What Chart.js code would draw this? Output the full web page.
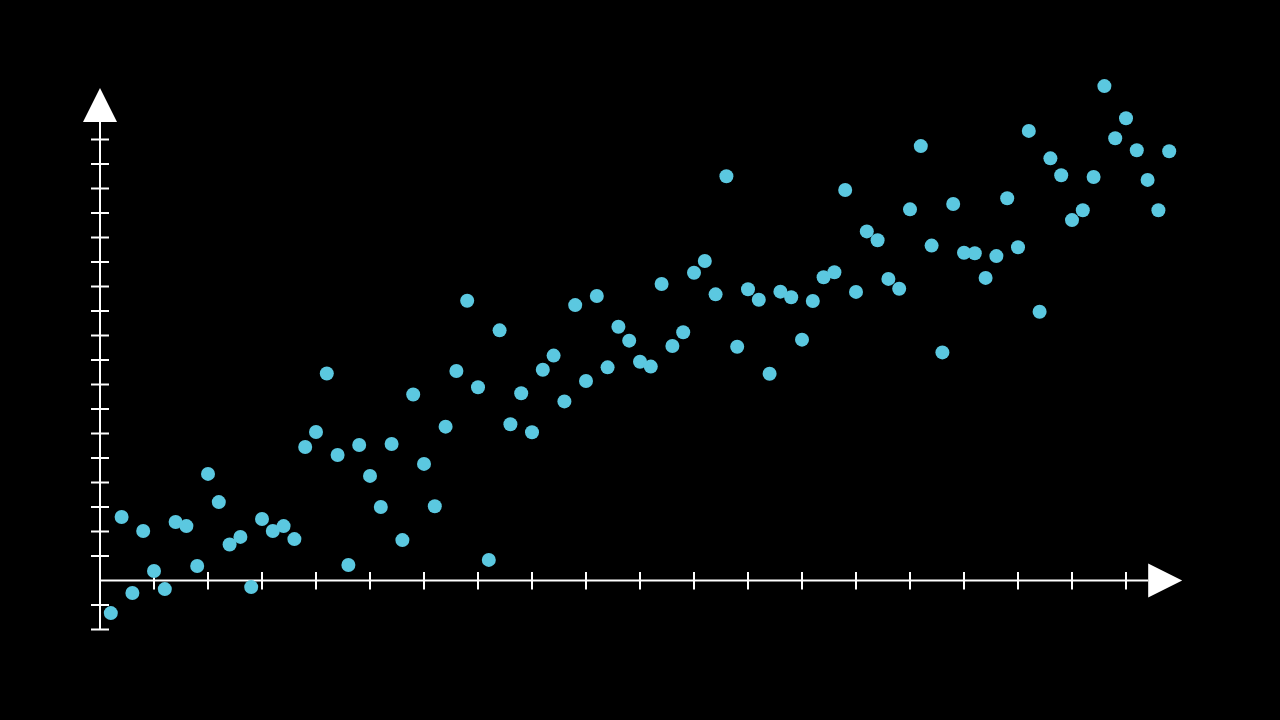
<!DOCTYPE html>
<html>
<head>
<meta charset="utf-8">
<script src="https://cdn.jsdelivr.net/npm/chart.js@4/dist/chart.umd.min.js"></script>
<style>
    html, body { margin: 0; padding: 0; background: #000; }
    #box { width: 1280px; height: 720px; position: relative; }
</style>
</head>
<body>
<div id="box"><canvas id="grafico"></canvas></div>
<script>
// dados
const xValores = [];
for (let i = 1; i <= 99; i++) xValores.push(i);

const yValores = [
    -1.33, 2.59, -0.51, 2.02, 0.39, -0.35, 2.39, 2.22, 0.59, 4.35,
    3.20, 1.47, 1.78, -0.27, 2.51, 2.02, 2.22, 1.69, 5.45, 6.06,
    8.45, 5.12, 0.63, 5.53, 4.27, 3.00, 5.57, 1.65, 7.59, 4.76,
    3.03, 6.28, 8.55, 11.42, 7.89, 0.84, 10.21, 6.38, 7.64, 6.05,
    8.60, 9.18, 7.31, 11.24, 8.14, 11.61, 8.70, 10.36, 9.79, 8.93,
    8.73, 12.10, 9.57, 10.13, 12.56, 13.04, 11.68, 16.50, 9.54, 11.89,
    11.46, 8.44, 11.79, 11.56, 9.83, 11.41, 12.38, 12.58, 15.94, 11.78,
    14.25, 13.89, 12.31, 11.91, 15.15, 17.73, 13.67, 9.31, 15.37, 13.38,
    13.36, 12.35, 13.24, 15.60, 13.60, 18.35, 10.97, 17.23, 16.54, 14.71,
    15.11, 16.47, 20.18, 18.05, 18.87, 17.56, 16.35, 15.11, 17.52
];

const xTicks = [5, 10, 15, 20, 25, 30, 35, 40, 45, 50, 55, 60, 65, 70, 75, 80, 85, 90, 95];
const yTicks = [-2, -1, 1, 2, 3, 4, 5, 6, 7, 8, 9, 10, 11, 12, 13, 14, 15, 16, 17, 18];

const pontos = xValores.map((x, i) => ({ x: x, y: yValores[i] }));

// eixos com setas, desenhados a partir das escalas do grafico
const eixos = {
    id: 'eixos',
    beforeDatasetsDraw(chart) {
        const ctx = chart.ctx;
        const sx = chart.scales.x;
        const sy = chart.scales.y;
        const x0 = sx.getPixelForValue(0);
        const y0 = sy.getPixelForValue(0);
        const yBaixo = sy.getPixelForValue(-2);
        const seta = 34;
        const topoSeta = sy.getPixelForValue(20.1);
        const pontaSeta = sx.getPixelForValue(100.2);

        ctx.save();
        ctx.strokeStyle = '#fff';
        ctx.fillStyle = '#fff';
        ctx.lineWidth = 2;

        ctx.beginPath();
        ctx.moveTo(x0, yBaixo);
        ctx.lineTo(x0, topoSeta + seta);
        ctx.moveTo(x0, y0);
        ctx.lineTo(pontaSeta - seta, y0);
        ctx.stroke();

        ctx.beginPath();
        yTicks.forEach(v => {
            const py = sy.getPixelForValue(v);
            ctx.moveTo(x0 - 9, py);
            ctx.lineTo(x0 + 9, py);
        });
        xTicks.forEach(v => {
            const px = sx.getPixelForValue(v);
            ctx.moveTo(px, y0 - 8.5);
            ctx.lineTo(px, y0 + 9);
        });
        ctx.stroke();

        // seta vertical
        ctx.beginPath();
        ctx.moveTo(x0, topoSeta);
        ctx.lineTo(x0 - seta / 2, topoSeta + seta);
        ctx.lineTo(x0 + seta / 2, topoSeta + seta);
        ctx.closePath();
        ctx.fill();

        // seta horizontal
        ctx.beginPath();
        ctx.moveTo(pontaSeta, y0);
        ctx.lineTo(pontaSeta - seta, y0 - seta / 2);
        ctx.lineTo(pontaSeta - seta, y0 + seta / 2);
        ctx.closePath();
        ctx.fill();
        ctx.restore();
    }
};

new Chart(document.getElementById('grafico'), {
    type: 'scatter',
    data: {
        datasets: [{
            label: 'pontos',
            data: pontos,
            backgroundColor: '#5BC8E0',
            borderWidth: 0,
            pointRadius: 7,
            pointHoverRadius: 7,
            clip: false
        }]
    },
    options: {
        responsive: true,
        maintainAspectRatio: false,
        animation: false,
        devicePixelRatio: 1,
        layout: {
            padding: { left: 100, right: 100, top: 90.5, bottom: 90.5 }
        },
        plugins: {
            legend: { display: false },
            tooltip: { enabled: false }
        },
        scales: {
            x: { type: 'linear', min: 0, max: 100, display: false },
            y: { type: 'linear', min: -2, max: 20, display: false }
        }
    },
    plugins: [eixos]
});
</script>
</body>
</html>
